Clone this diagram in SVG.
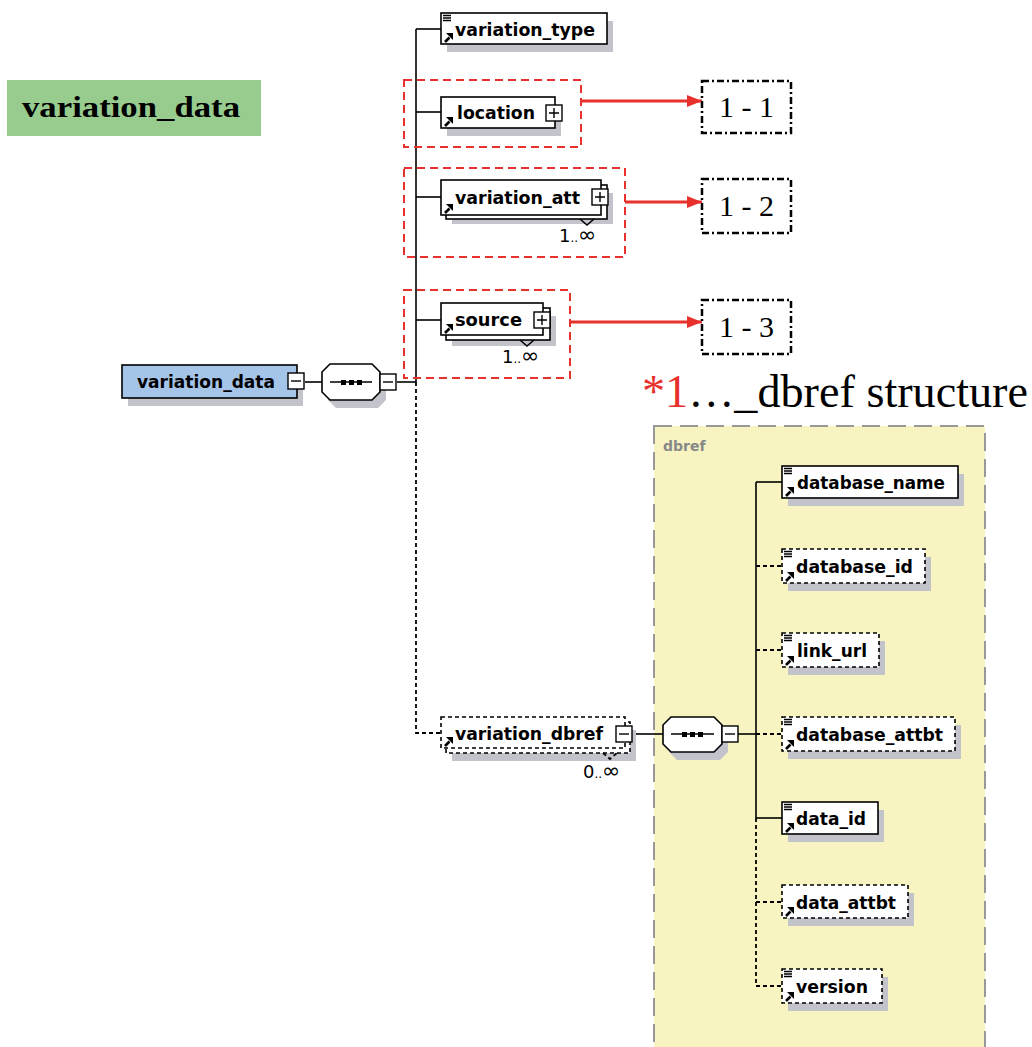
<svg xmlns="http://www.w3.org/2000/svg" xmlns:xlink="http://www.w3.org/1999/xlink" width="1032" height="1047" viewBox="0 0 1032 1047">
  <style>
    .bg { fill: #ffffff; }
    .box { fill: #ffffff; stroke: #000; stroke-width: 1.6; }
    .dash { stroke-dasharray: 4 3; }
    .root { fill: #a4c4e8; stroke: #000; stroke-width: 1.6; }
    .shadow { fill: #c3c3cb; }
    .lbl { font-family: "DejaVu Sans", "Liberation Sans", sans-serif; font-weight: bold; font-size: 18.5px; fill: #000; }
    .occ { font-family: "DejaVu Sans", "Liberation Sans", sans-serif; font-size: 18px; fill: #000; }
    .occ .dots { font-size: 12px; }
    .occ .inf { font-size: 22px; }
    .ln { stroke: #000; stroke-width: 1.6; fill: none; }
    .dl { stroke: #000; stroke-width: 1.8; fill: none; stroke-dasharray: 4 3; }
    .group { fill: none; stroke: #e8302c; stroke-width: 2; stroke-dasharray: 8 5; }
    .red { stroke: #e8302c; stroke-width: 3; fill: none; }
    .ref { fill: #fff; stroke: #000; stroke-width: 2.5; stroke-dasharray: 7 3 2 3; }
    .num { font-family: "Liberation Serif", "Times New Roman", serif; font-size: 30px; fill: #000; }
    .panel { fill: #f7f4c2; stroke: #999; stroke-width: 2; stroke-dasharray: 18 8; }
  </style>
  <defs>
    <!-- simple-content marker (three bars) -->
    <g id="bars">
      <path d="M2,2.5 H10 M2,5 H10 M2,7.5 H10" stroke="#000" stroke-width="1.3"/>
    </g>
    <!-- reference arrow, anchored at bottom-left corner -->
    <g id="refarrow">
      <path d="M4,-2 L8.5,-6.5" stroke="#000" stroke-width="2.6"/>
      <polygon points="5,-11 12,-11 12,-4" fill="#000"/>
    </g>
    <!-- expand / collapse buttons -->
    <g id="plus">
      <rect x="0" y="0" width="16" height="16" fill="#fff" stroke="#000" stroke-width="1.4"/>
      <path d="M3,8 H13 M8,3 V13" stroke="#000" stroke-width="1.4"/>
    </g>
    <g id="minus">
      <rect x="0" y="0" width="16" height="16" fill="#fff" stroke="#000" stroke-width="1.4"/>
      <path d="M3,8 H13" stroke="#000" stroke-width="1.4"/>
    </g>
    <marker id="redhead" markerWidth="5" markerHeight="4" refX="5" refY="2" orient="auto" markerUnits="strokeWidth">
      <path d="M0,0 L5,2 L0,4 Z" fill="#e8302c"/>
    </marker>
  </defs>

  <rect class="bg" x="0" y="0" width="1032" height="1047"/>

  <!-- heading label -->
  <g id="heading">
    <rect x="7" y="80" width="254" height="56" fill="#98cc8f"/>
    <text x="22" y="117" font-family="Liberation Serif, Times New Roman, serif" font-weight="bold" font-size="29" textLength="218" lengthAdjust="spacingAndGlyphs">variation_data</text>
  </g>

  <!-- dbref panel -->
  <g id="dbref-panel">
    <text x="642" y="407" font-family="Liberation Serif, Times New Roman, serif" font-size="46" textLength="386" lengthAdjust="spacingAndGlyphs"><tspan fill="#e8302c">*1</tspan><tspan fill="#000">…_dbref structure</tspan></text>
    <rect class="panel" x="654" y="426" width="331" height="640"/>
    <text x="663" y="451" font-family="DejaVu Sans, Liberation Sans, sans-serif" font-weight="bold" font-size="14" fill="#888">dbref</text>
  </g>

  <!-- connectors -->
  <g id="connectors">
    <!-- main sequence -->
    <path class="ln" d="M305,382 H322"/>
    <path class="ln" d="M397,382 H416"/>
    <path class="ln" d="M416,29 V382"/>
    <path class="dl" d="M416,382 V733 H441"/>
    <path class="ln" d="M416,29 H441"/>
    <path class="ln" d="M416,112 H441"/>
    <path class="ln" d="M416,197 H441"/>
    <path class="ln" d="M416,320 H441"/>
    <!-- dbref sequence -->
    <path class="ln" d="M633,734 H663"/>
    <path class="ln" d="M738,734 H756"/>
    <path class="ln" d="M756,482 V818"/>
    <path class="dl" d="M756,818 V986"/>
    <path class="ln" d="M756,482 H782"/>
    <path class="dl" d="M756,566 H782"/>
    <path class="dl" d="M756,650 H782"/>
    <path class="dl" d="M756,734 H782"/>
    <path class="ln" d="M756,818 H782"/>
    <path class="dl" d="M756,902 H782"/>
    <path class="dl" d="M756,986 H782"/>
    <!-- reference arrows -->
    <path class="red" d="M581,101 H702" marker-end="url(#redhead)"/>
    <path class="red" d="M625,202 H702" marker-end="url(#redhead)"/>
    <path class="red" d="M570,322 H702" marker-end="url(#redhead)"/>
  </g>

  <!-- highlighted groups -->
  <g id="groups">
    <rect class="group" x="404" y="80" width="177" height="67"/>
    <rect class="group" x="404" y="168" width="221" height="89"/>
    <rect class="group" x="404" y="290" width="166" height="88"/>
  </g>

  <!-- root element -->
  <g id="node-variation_data">
    <rect class="shadow" x="128" y="373" width="175" height="33"/>
    <rect class="root" x="122" y="365" width="175" height="33"/>
    <text class="lbl" x="137" y="388" textLength="138" lengthAdjust="spacingAndGlyphs">variation_data</text>
    <use xlink:href="#minus" x="288" y="373"/>
  </g>

  <!-- sequence compositor -->
  <g id="node-sequence">
    <polygon class="shadow" points="336,372 378,372 386,380 386,400 378,408 336,408 328,400 328,380"/>
    <polygon class="box" points="330,364 372,364 380,372 380,392 372,400 330,400 322,392 322,372"/>
    <path class="ln" d="M330,382 H372"/>
    <rect x="341" y="380" width="5" height="5" fill="#000"/>
    <rect x="349" y="380" width="5" height="5" fill="#000"/>
    <rect x="357" y="380" width="5" height="5" fill="#000"/>
    <use xlink:href="#minus" x="380" y="374"/>
  </g>

  <g id="node-variation_type">
    <rect class="shadow" x="447" y="21" width="166" height="31"/>
    <rect class="box" x="441" y="13" width="166" height="31"/>
    <use xlink:href="#bars" x="441" y="13"/>
    <use xlink:href="#refarrow" x="441" y="44"/>
    <text class="lbl" x="455" y="36" textLength="140" lengthAdjust="spacingAndGlyphs">variation_type</text>
  </g>

  <g id="node-location">
    <rect class="shadow" x="447" y="105" width="114" height="31"/>
    <rect class="box" x="441" y="97" width="114" height="31"/>
    <use xlink:href="#refarrow" x="441" y="128"/>
    <text class="lbl" x="457" y="119" textLength="78" lengthAdjust="spacingAndGlyphs">location</text>
    <use xlink:href="#plus" x="546" y="105"/>
  </g>

  <g id="node-variation_att">
    <rect class="shadow" x="452" y="193" width="161" height="31"/>
    <rect class="box" x="446" y="185" width="161" height="34"/>
    <rect class="box" x="441" y="180" width="160" height="35"/>
    <polyline class="ln" points="580,219 587,225 594,219" stroke-width="1.2"/>
    <use xlink:href="#refarrow" x="441" y="215"/>
    <text class="lbl" x="455" y="204" textLength="125" lengthAdjust="spacingAndGlyphs">variation_att</text>
    <use xlink:href="#plus" x="592" y="189"/>
    <text class="occ" x="559" y="242">1<tspan class="dots">..</tspan><tspan class="inf">∞</tspan></text>
  </g>

  <g id="node-source">
    <rect class="shadow" x="452" y="316" width="104" height="30"/>
    <rect class="box" x="446" y="308" width="104" height="32"/>
    <rect class="box" x="441" y="303" width="102" height="32"/>
    <polyline class="ln" points="520,340 527,346 534,340" stroke-width="1.2"/>
    <use xlink:href="#refarrow" x="441" y="335"/>
    <text class="lbl" x="455" y="326" textLength="67" lengthAdjust="spacingAndGlyphs">source</text>
    <use xlink:href="#plus" x="534" y="312"/>
    <text class="occ" x="502" y="363">1<tspan class="dots">..</tspan><tspan class="inf">∞</tspan></text>
  </g>

  <g id="node-variation_dbref">
    <rect class="shadow" x="452" y="730" width="184" height="31"/>
    <rect class="box dash" x="446" y="722" width="184" height="31"/>
    <rect class="box dash" x="441" y="717" width="184" height="31"/>
    <polyline class="dl" points="603,753 610,759 617,753" stroke-width="1.2"/>
    <use xlink:href="#refarrow" x="441" y="748"/>
    <text class="lbl" x="455" y="740" textLength="148" lengthAdjust="spacingAndGlyphs">variation_dbref</text>
    <use xlink:href="#minus" x="616" y="726"/>
    <text class="occ" x="583" y="778">0<tspan class="dots">..</tspan><tspan class="inf">∞</tspan></text>
  </g>

  <g id="node-dbref-sequence">
    <polygon class="shadow" points="677,725 720,725 728,733 728,752 720,760 677,760 669,752 669,733"/>
    <polygon class="box" points="671,717 714,717 722,725 722,744 714,752 671,752 663,744 663,725"/>
    <path class="ln" d="M671,734 H714"/>
    <rect x="682" y="732" width="5" height="5" fill="#000"/>
    <rect x="690" y="732" width="5" height="5" fill="#000"/>
    <rect x="698" y="732" width="5" height="5" fill="#000"/>
    <use xlink:href="#minus" x="722" y="726"/>
  </g>

  <g id="node-database_name">
    <rect class="shadow" x="788" y="474" width="176" height="32"/>
    <rect class="box" x="782" y="466" width="176" height="32"/>
    <use xlink:href="#bars" x="782" y="466"/>
    <use xlink:href="#refarrow" x="782" y="498"/>
    <text class="lbl" x="797" y="489" textLength="148" lengthAdjust="spacingAndGlyphs">database_name</text>
  </g>

  <g id="node-database_id">
    <rect class="shadow" x="788" y="557" width="143" height="34"/>
    <rect class="box dash" x="782" y="549" width="143" height="34"/>
    <use xlink:href="#bars" x="782" y="549"/>
    <use xlink:href="#refarrow" x="782" y="583"/>
    <text class="lbl" x="796" y="573" textLength="117" lengthAdjust="spacingAndGlyphs">database_id</text>
  </g>

  <g id="node-link_url">
    <rect class="shadow" x="788" y="641" width="97" height="34"/>
    <rect class="box dash" x="782" y="633" width="97" height="34"/>
    <use xlink:href="#bars" x="782" y="633"/>
    <use xlink:href="#refarrow" x="782" y="667"/>
    <text class="lbl" x="797" y="657" textLength="70" lengthAdjust="spacingAndGlyphs">link_url</text>
  </g>

  <g id="node-database_attbt">
    <rect class="shadow" x="788" y="725" width="173" height="34"/>
    <rect class="box dash" x="782" y="717" width="173" height="34"/>
    <use xlink:href="#bars" x="782" y="717"/>
    <use xlink:href="#refarrow" x="782" y="751"/>
    <text class="lbl" x="796" y="741" textLength="147" lengthAdjust="spacingAndGlyphs">database_attbt</text>
  </g>

  <g id="node-data_id">
    <rect class="shadow" x="788" y="810" width="96" height="32"/>
    <rect class="box" x="782" y="802" width="96" height="32"/>
    <use xlink:href="#bars" x="782" y="802"/>
    <use xlink:href="#refarrow" x="782" y="834"/>
    <text class="lbl" x="796" y="825" textLength="70" lengthAdjust="spacingAndGlyphs">data_id</text>
  </g>

  <g id="node-data_attbt">
    <rect class="shadow" x="788" y="893" width="126" height="33"/>
    <rect class="box dash" x="782" y="885" width="126" height="33"/>
    <use xlink:href="#refarrow" x="782" y="918"/>
    <text class="lbl" x="796" y="909" textLength="100" lengthAdjust="spacingAndGlyphs">data_attbt</text>
  </g>

  <g id="node-version">
    <rect class="shadow" x="788" y="977" width="100" height="34"/>
    <rect class="box dash" x="782" y="969" width="100" height="34"/>
    <use xlink:href="#bars" x="782" y="969"/>
    <use xlink:href="#refarrow" x="782" y="1003"/>
    <text class="lbl" x="796" y="993" textLength="72" lengthAdjust="spacingAndGlyphs">version</text>
  </g>

  <!-- referenced sub-structures -->
  <g id="node-ref-1-1">
    <rect class="ref" x="702" y="81" width="89" height="52"/>
    <text class="num" x="746.5" y="117" text-anchor="middle">1 - 1</text>
  </g>
  <g id="node-ref-1-2">
    <rect class="ref" x="702" y="179" width="89" height="54"/>
    <text class="num" x="746.5" y="216" text-anchor="middle">1 - 2</text>
  </g>
  <g id="node-ref-1-3">
    <rect class="ref" x="702" y="300" width="89" height="54"/>
    <text class="num" x="746.5" y="337" text-anchor="middle">1 - 3</text>
  </g>
</svg>
